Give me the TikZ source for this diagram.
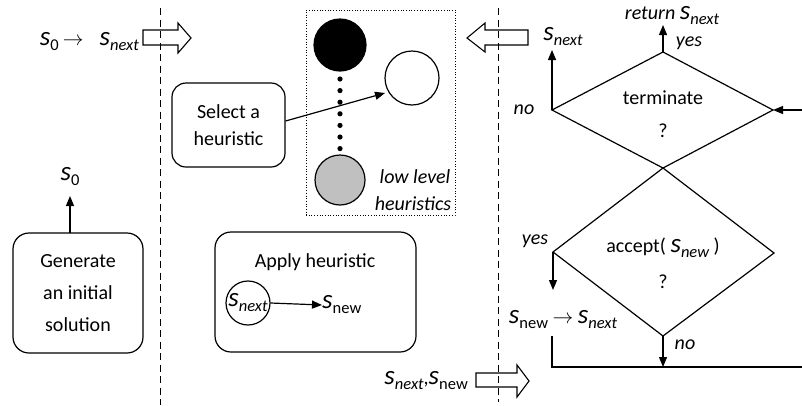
\documentclass[tikz,border=0pt]{standalone}
\usepackage{fontspec}
\setmainfont{Carlito}
\usetikzlibrary{arrows.meta}
\newcommand{\sv}[2][\itshape]{{\fontsize{27}{27}\selectfont\itshape s}\raisebox{-0.25em}{\fontsize{16.5}{16.5}\selectfont #1#2}}
\begin{document}
\begin{tikzpicture}[x=1pt,y=-1pt,
  every node/.style={font=\fontsize{20}{24}\selectfont, inner sep=0pt},
  ln/.style={line width=1.2pt},
  arr/.style={ln,-{Triangle[length=10pt,width=8pt]}},
  box/.style={draw,line width=1.2pt,rounded corners=16pt,align=center},
  divider/.style={line width=1pt,dash pattern=on 7pt off 4.5pt},
  blk/.style={draw,line width=1.1pt},
  lab/.style={font=\fontsize{20}{24}\selectfont\itshape},
  dia/.style={line width=1.2pt}]
\useasboundingbox (0,0) rectangle (802,405);

% dividers
\coordinate (d1a) at (160,8); \coordinate (d1b) at (160,405);
\coordinate (d2a) at (498,8); \coordinate (d2b) at (498,402);
\draw[divider] (d1a) -- (d1b);
\draw[divider] (d2a) -- (d2b);

% left column
\node[box, minimum width=130pt, minimum height=120pt, font=\fontsize{20}{32}\selectfont] (gen) at (78,293) {Generate\\an initial\\solution};
\node (s0) at (70,177) {\sv[\upshape]{0}};
\coordinate (g0) at (70,233);
\coordinate (g1) at (70,196);
\draw[arr] (g0) -- (g1);

\node[anchor=east] (top) at (139,42) {\sv[\upshape]{0}\hspace{4pt}$\rightarrow$\hspace{16pt}\sv{next}};
\draw[blk] (143,30) -- (178,30) -- (178,23) -- (191,38) -- (178,53) -- (178,45) -- (143,45) -- cycle;

% middle column
\node[box, minimum width=113pt, minimum height=84pt, rounded corners=14pt, font=\fontsize{20}{27}\selectfont] (sel) at (228.5,125) {Select a\\heuristic};
\node[draw, dotted, line width=0.7pt, minimum width=149pt, minimum height=205pt] (llh) at (380.5,112.5) {};
\node[circle, fill=black, draw, line width=1.2pt, minimum size=52pt] (c1) at (340,45) {};
\node[circle, fill=white, draw, line width=1.2pt, minimum size=54pt] (c2) at (412,78) {};
\node[circle, fill={rgb,255:red,192;green,192;blue,192}, draw, line width=1.2pt, minimum size=50pt] (c3) at (340,180) {};
\foreach \i in {0,...,6} \fill (340,{79+\i*11.6}) circle (2.6pt);
\node[lab] (ll1) at (415,177) {low level};
\node[lab] (ll2) at (413,204) {heuristics};
\coordinate (selto) at (385,93);
\draw[arr] (sel.east |- 0,121) -- (selto);

\node[box, minimum width=201pt, minimum height=120pt] (app) at (315.5,292) {};
\node (apt) at (315,262) {Apply heuristic};
\node[circle, draw, line width=1.2pt, minimum size=44pt] (sn) at (248,303) {\sv{next}};
\node[anchor=west] (snew) at (322,305) {\sv[\upshape]{new}};
\draw[arr] (sn.east) -- (snew.west);

\node[anchor=east] (bot) at (468,381) {\sv{next},\sv[\upshape]{new}};
\draw[blk] (476,373) -- (517,373) -- (517,365) -- (529,381) -- (517,397) -- (517,387) -- (476,387) -- cycle;

% right column
\draw[blk] (528,30) -- (485,30) -- (485,23) -- (467,38) -- (485,52) -- (485,45) -- (528,45) -- cycle;
\node (snx) at (563,37) {\sv{next}};

\coordinate (tL) at (552,110); \coordinate (tT) at (663,52);
\coordinate (tR) at (773,110); \coordinate (tB) at (663,168);
\draw[dia] (tL) -- (tT) -- (tR) -- (tB) -- cycle;
\node (term) at (663,98) {terminate};
\node (tq) at (663,131) {?};

\coordinate (aT) at (663,168); \coordinate (aL) at (553,252);
\coordinate (aR) at (774,253); \coordinate (aB) at (663,336);
\draw[dia] (aT) -- (aL) -- (aB) -- (aR) -- cycle;
\node (acc) at (663,248) {accept( \sv{new} )};
\node (aq) at (663,282) {?};

\node[anchor=base] (ret) at (672,19) {\itshape return \sv{next}};
\coordinate (retb) at (663,25);
\draw[arr] (tT) -- (retb);
\node[lab] (yes1) at (689,43) {yes};

\node[lab] (no1) at (524,110) {no};
\coordinate (snxb) at (552,50);
\draw[arr] (tL) -- (snxb);

\coordinate (rin) at (802,110);
\draw[arr] (rin) -- (tR);

\node[lab] (yes2) at (535,241) {yes};
\coordinate (ay) at (553,290);
\draw[arr] (aL) -- (ay);
\node (upd) at (563,320) {\sv[\upshape]{new} $\rightarrow$ \sv{next}};

\coordinate (l1) at (552,336); \coordinate (l2) at (552,367); \coordinate (l3) at (802,367);
\draw[ln] (l1) -- (l2) -- (l3);
\coordinate (an) at (663,367);
\draw[arr] (aB) -- (an);
\node[lab] (no2) at (685,345) {no};
\end{tikzpicture}
\end{document}
